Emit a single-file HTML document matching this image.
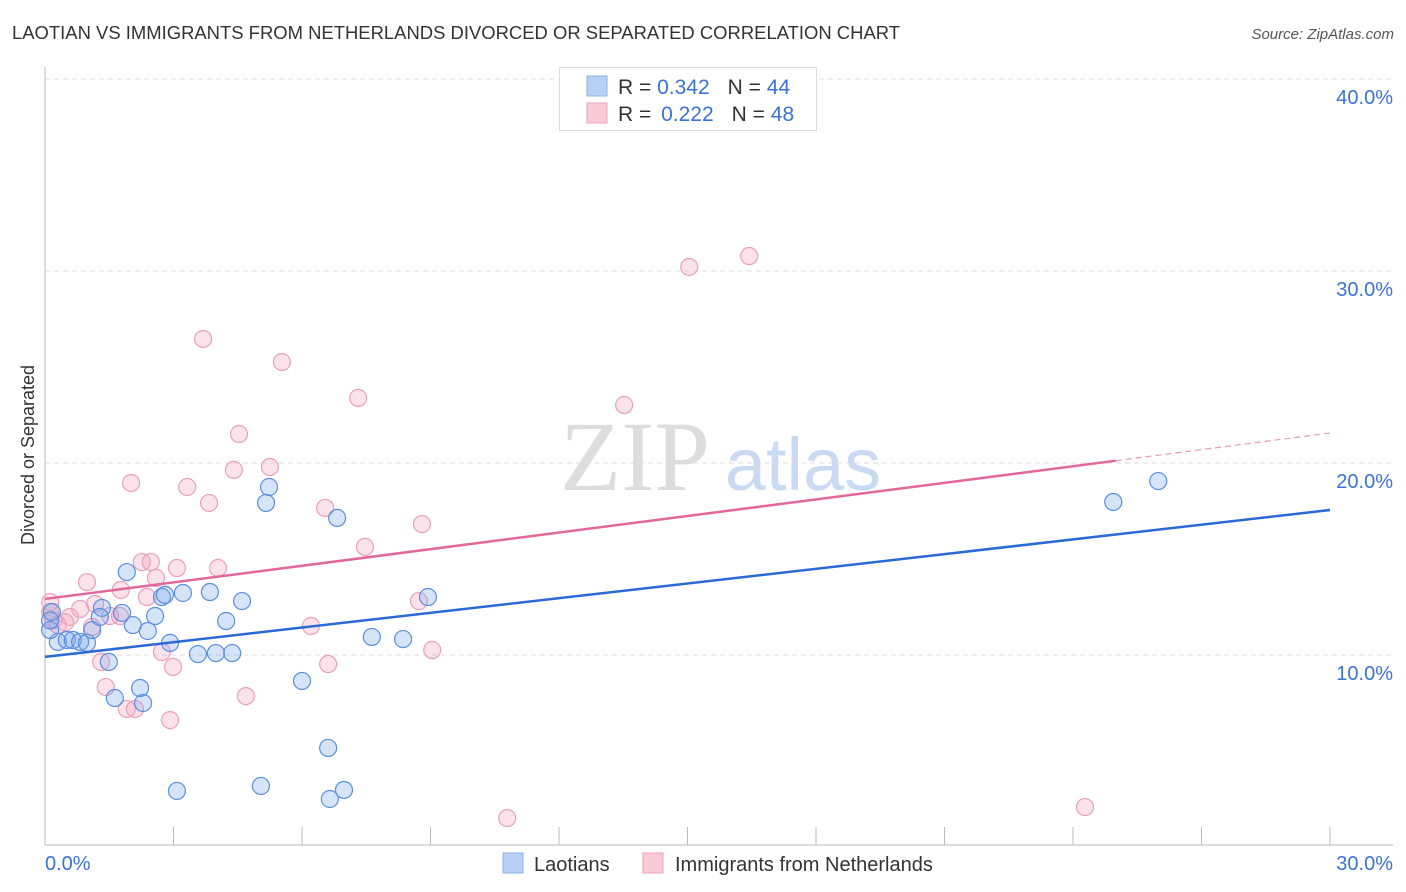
<!DOCTYPE html>
<html><head><meta charset="utf-8">
<style>
body{margin:0;background:#fff;font-family:"Liberation Sans",sans-serif;}
#wrap{position:relative;width:1406px;height:892px;overflow:hidden;}
</style></head>
<body>
<div id="wrap">
<svg id="chart" width="1406" height="892">
<text x="12" y="39" font-size="18.5" fill="#333" textLength="888" lengthAdjust="spacingAndGlyphs">LAOTIAN VS IMMIGRANTS FROM NETHERLANDS DIVORCED OR SEPARATED CORRELATION CHART</text>
<text x="1394" y="39" font-size="15" fill="#555" font-style="italic" text-anchor="end">Source: ZipAtlas.com</text>
<text x="34" y="455" font-size="18" fill="#333" text-anchor="middle" transform="rotate(-90 34 455)">Divorced or Separated</text>
<g>
<text x="635" y="490" font-size="100" fill="#ddd" font-family="Liberation Serif,serif" text-anchor="middle">ZIP</text>
<text x="803" y="490" font-size="74" fill="#c9daf2" text-anchor="middle">atlas</text>
</g>
<g id="grid"></g>
<g id="marks"></g>
<g>
<rect x="559.5" y="67.5" width="257" height="63" fill="#fff" stroke="#ddd"/>
<rect x="587" y="76" width="20" height="20" fill="#b7d0f4" stroke="#8fb2e8"/>
<rect x="587" y="103" width="20" height="20" fill="#f8c9d6" stroke="#eda3bb"/>
<text x="618" y="94" font-size="21" fill="#333">R = <tspan fill="#3a72d8">0.342</tspan><tspan dx="18">N = </tspan><tspan fill="#3a72d8">44</tspan></text>
<text x="618" y="121" font-size="21" fill="#333">R = <tspan fill="#3a72d8" dx="4">0.222</tspan><tspan dx="18">N = </tspan><tspan fill="#3a72d8">48</tspan></text>
</g>
<g>
<rect x="503" y="853" width="20" height="20" fill="#b7d0f4" stroke="#8fb2e8"/>
<text x="534" y="871" font-size="20" fill="#333">Laotians</text>
<rect x="643" y="853" width="20" height="20" fill="#f8c9d6" stroke="#eda3bb"/>
<text x="675" y="871" font-size="20" fill="#333">Immigrants from Netherlands</text>
</g>
</svg>
</div>
<script>
const blueX=[0.30,0.51,0.65,0.82,0.98,1.10,1.33,1.28,1.80,1.91,2.05,2.40,2.57,2.73,2.80,3.22,3.85,4.60,4.23,2.92,3.57,3.99,4.37,1.49,2.22,1.63,2.29,6.00,6.61,3.08,5.04,6.65,6.98,7.63,8.36,8.94,5.16,5.23,6.82,24.94,25.99,0.12,0.16,0.12];
const blueY=[10.68,10.78,10.78,10.68,10.63,11.30,12.45,11.98,12.19,14.32,11.56,11.25,12.03,13.02,13.13,13.23,13.28,12.81,11.77,10.63,10.05,10.10,10.10,9.64,8.28,7.76,7.50,8.65,5.16,2.92,3.18,2.50,2.97,10.94,10.83,13.02,17.92,18.75,17.14,17.97,19.06,11.30,12.24,11.8];
const pinkX=[0.12,0.19,0.30,0.58,0.82,0.98,1.10,1.17,1.52,1.75,1.77,2.26,2.47,2.59,2.38,3.08,4.04,1.31,1.42,1.91,2.10,2.73,2.99,2.92,4.69,6.21,6.61,7.47,8.73,9.04,2.01,3.32,3.83,4.41,4.53,3.69,5.25,5.53,6.54,7.31,8.80,13.52,15.04,16.44,10.79,24.28,0.12,0.47];
const pinkY=[12.76,11.82,11.56,11.98,12.40,13.80,11.46,12.66,12.03,12.03,13.39,14.84,14.84,14.01,13.02,14.53,14.53,9.64,8.33,7.19,7.19,10.16,9.38,6.61,7.86,11.51,9.53,15.63,12.81,10.26,18.96,18.75,17.92,19.64,21.51,26.46,19.79,25.26,17.66,23.39,16.82,23.02,30.21,30.78,1.51,2.08,12.24,11.7];
const blueTrend=[9.9,17.55];   // value at x=0 and x=30
const pinkTrend=[12.92,21.56];
const pinkSolidEnd=25;
const yTicks=[10,20,30,40];
const yTickLabels=["10.0%","20.0%","30.0%","40.0%"];
const xTicks=[0,3,6,9,12,15,18,21,24,27,30];

const NS="http://www.w3.org/2000/svg";
const X0=45,X1=1330,Y0=847,PXY=19.2;
const sx=v=>X0+v*(X1-X0)/30, sy=v=>Y0-v*PXY;
function mk(tag,attrs,parent){const e=document.createElementNS(NS,tag);for(const k in attrs)e.setAttribute(k,attrs[k]);parent.appendChild(e);return e;}
const grid=document.getElementById('grid'), marks=document.getElementById('marks');
yTicks.forEach((t,i)=>{
  const l=mk('line',{x1:X0,x2:1393,y1:sy(t),y2:sy(t),stroke:'#ddd','stroke-dasharray':'5,4'},grid);
  
  
  const tx=mk('text',{x:1393,y:sy(t)+25,'font-size':20,fill:'#3a72d8','text-anchor':'end'},grid);
  tx.textContent=yTickLabels[i];
  
  
});
const ax=mk('line',{x1:X0,x2:X0,y1:67,y2:845,stroke:'#bbb'},grid);


const bx=mk('line',{x1:X0,x2:1393,y1:845,y2:845,stroke:'#bbb'},grid);


xTicks.forEach(t=>{
  const l=mk('line',{x1:sx(t),x2:sx(t),y1:827,y2:845,stroke:'#bbb'},grid);
  
  
});
const xl0=mk('text',{x:45,y:870,'font-size':20,fill:'#3a72d8'},grid);xl0.textContent=xTicks[0].toFixed(1)+'%';


const xl1=mk('text',{x:1393,y:870,'font-size':20,fill:'#3a72d8','text-anchor':'end'},grid);xl1.textContent=xTicks[xTicks.length-1].toFixed(1)+'%';



function pts(xs,ys,fill,stroke,name){xs.forEach((x,i)=>{
  const c=mk('circle',{cx:sx(x),cy:sy(ys[i]),r:8.5,fill:fill,stroke:stroke,'stroke-width':1.2},marks);
  
  
});}
pts(pinkX,pinkY,'rgba(244,160,188,0.3)','#eba0ba','point-netherlands');
pts(blueX,blueY,'rgba(120,165,235,0.3)','#5a8fe0','point-laotians');
const tb=mk('line',{x1:sx(0),y1:sy(blueTrend[0]),x2:sx(30),y2:sy(blueTrend[1]),stroke:'#2a6ad6','stroke-width':2.5},marks);


const pe=pinkTrend[0]+(pinkTrend[1]-pinkTrend[0])*pinkSolidEnd/30;
const tp=mk('line',{x1:sx(0),y1:sy(pinkTrend[0]),x2:sx(pinkSolidEnd),y2:sy(pe),stroke:'#e4679a','stroke-width':2.5},marks);


const tpd=mk('line',{x1:sx(pinkSolidEnd),y1:sy(pe),x2:sx(30),y2:sy(pinkTrend[1]),stroke:'#e89ab4','stroke-width':1.2,'stroke-dasharray':'6,4'},marks);


</script>
</body></html>
